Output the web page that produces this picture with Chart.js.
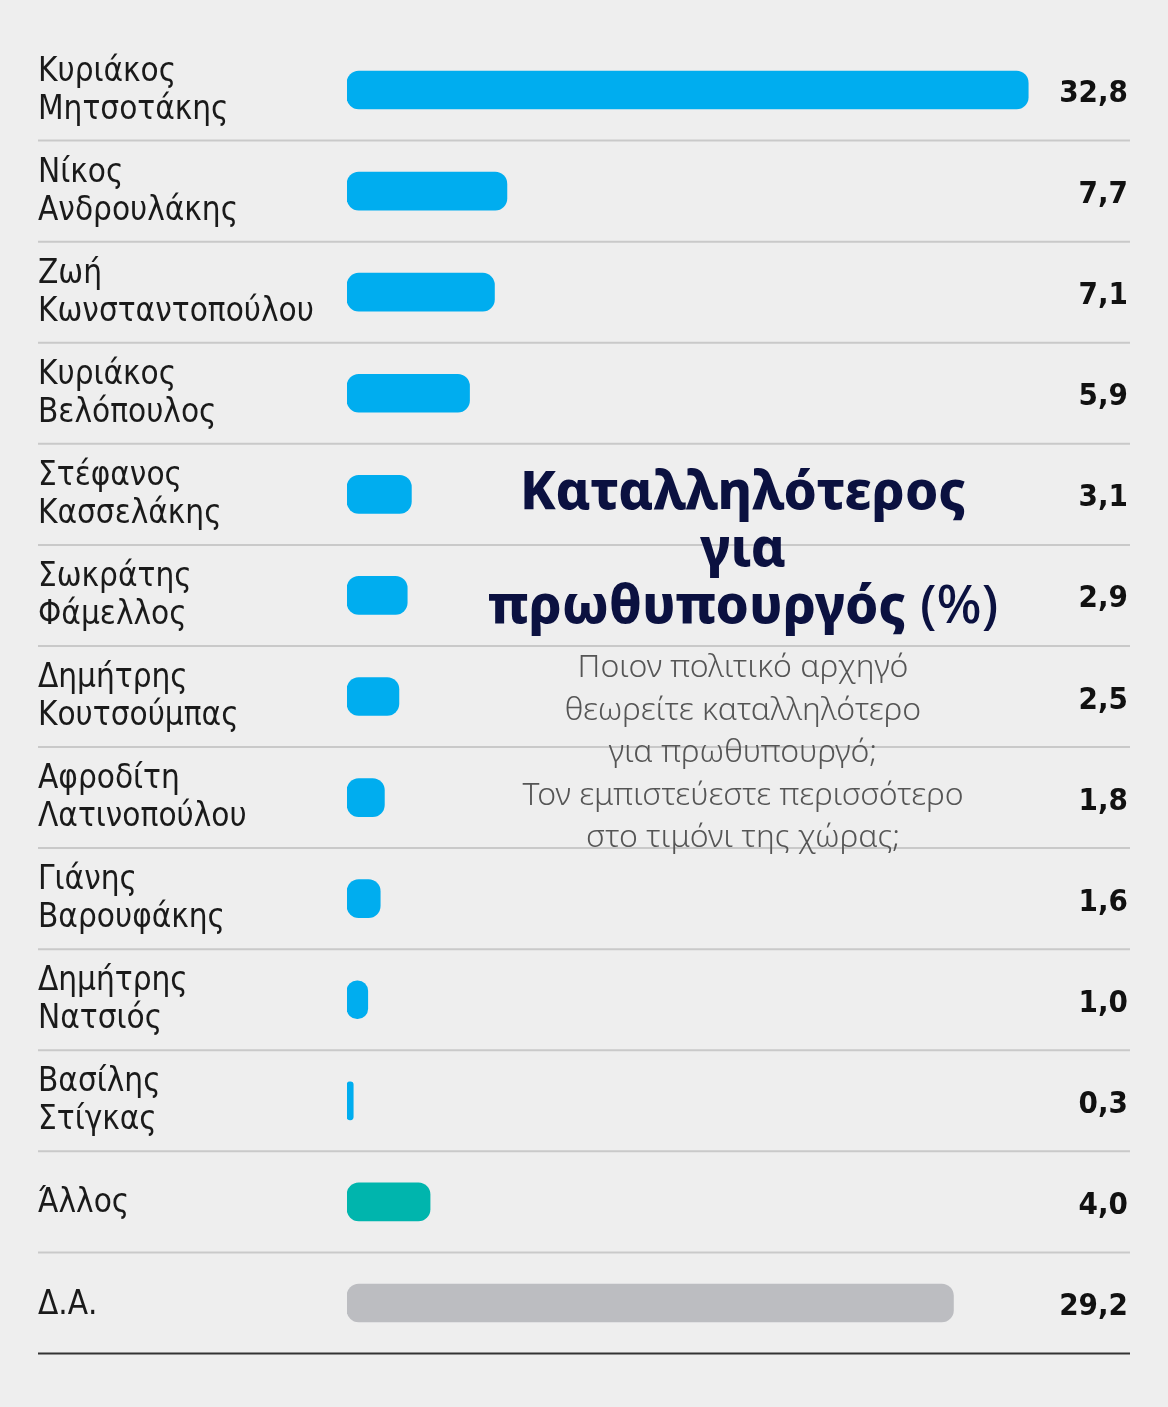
<!DOCTYPE html>
<html>
<head>
<meta charset="utf-8">
<script src="https://cdn.jsdelivr.net/npm/chart.js@4"></script>
<style>
  html, body { margin: 0; padding: 0; background: #eeeeee; }
  #wrap { width: 1168px; height: 1407px; position: relative; }
</style>
</head>
<body>
<div id="wrap"><canvas id="chart"></canvas></div>
<script>
const names = [
  ["Κυριάκος", "Μητσοτάκης"],
  ["Νίκος", "Ανδρουλάκης"],
  ["Ζωή", "Κωνσταντοπούλου"],
  ["Κυριάκος", "Βελόπουλος"],
  ["Στέφανος", "Κασσελάκης"],
  ["Σωκράτης", "Φάμελλος"],
  ["Δημήτρης", "Κουτσούμπας"],
  ["Αφροδίτη", "Λατινοπούλου"],
  ["Γιάνης", "Βαρουφάκης"],
  ["Δημήτρης", "Νατσιός"],
  ["Βασίλης", "Στίγκας"],
  ["Άλλος"],
  ["Δ.Α."]
];
const shares = [32.8, 7.7, 7.1, 5.9, 3.1, 2.9, 2.5, 1.8, 1.6, 1.0, 0.3, 4.0, 29.2];
const barColors = ["#00adef", "#00adef", "#00adef", "#00adef", "#00adef", "#00adef",
  "#00adef", "#00adef", "#00adef", "#00adef", "#00adef", "#00b5ad", "#bcbdc1"];

const titleLines = ["Καταλληλότερος", "για", "πρωθυπουργός"];
const subtitleLines = ["Ποιον πολιτικό αρχηγό", "θεωρείτε καταλληλότερο",
  "για πρωθυπουργό;", "Τον εμπιστεύεστε περισσότερο", "στο τιμόνι της χώρας;"];

const labelFont = '33px "DejaVu Sans Condensed", "DejaVu Sans", sans-serif';
const valueFont = 'bold 31px "DejaVu Sans Condensed", "DejaVu Sans", sans-serif';

const overlay = {
  id: "overlay",
  afterDatasetsDraw(chart) {
    const ctx = chart.ctx;
    const y = chart.scales.y;
    const step = y.getPixelForValue(1) - y.getPixelForValue(0);
    ctx.save();
    // separators
    names.forEach((n, i) => {
      const ly = y.getPixelForValue(i) + step / 2;
      ctx.strokeStyle = i === names.length - 1 ? "#333333" : "#c9c9c9";
      ctx.lineWidth = 2;
      ctx.beginPath();
      ctx.moveTo(38, ly);
      ctx.lineTo(1130, ly);
      ctx.stroke();
    });
    // labels and values
    ctx.textBaseline = "middle";
    names.forEach((n, i) => {
      const cy = y.getPixelForValue(i);
      ctx.font = labelFont;
      ctx.fillStyle = "#1a1a1a";
      ctx.textAlign = "left";
      if (n.length === 2) {
        ctx.fillText(n[0], 38, cy - 18);
        ctx.fillText(n[1], 38, cy + 20);
      } else {
        ctx.fillText(n[0], 38, cy + 2);
      }
      ctx.font = valueFont;
      ctx.textAlign = "right";
      ctx.fillStyle = "#111111";
      ctx.fillText(shares[i].toFixed(1).replace(".", ","), 1128, cy + 4);
    });
    // title
    const cx = 743;
    ctx.textAlign = "center";
    ctx.fillStyle = "#0b1140";
    ctx.font = '800 53px "Noto Sans", sans-serif';
    ctx.fillText(titleLines[0], cx, 494);
    ctx.fillText(titleLines[1], cx, 551);
    const t3 = titleLines[2];
    const w3 = ctx.measureText(t3).width;
    ctx.font = '500 53px "Noto Sans", sans-serif';
    const wp = ctx.measureText(" (%)").width;
    const startX = cx - (w3 + wp) / 2;
    ctx.textAlign = "left";
    ctx.font = '800 53px "Noto Sans", sans-serif';
    ctx.fillText(t3, startX, 608);
    ctx.font = '500 53px "Noto Sans", sans-serif';
    ctx.fillText(" (%)", startX + w3, 608);
    // subtitle
    ctx.textAlign = "center";
    ctx.fillStyle = "#555555";
    ctx.font = '300 32px "Noto Sans", sans-serif';
    subtitleLines.forEach((s, i) => ctx.fillText(s, cx, 668 + i * 42.5));
    ctx.restore();
  }
};

new Chart(document.getElementById("chart"), {
  type: "bar",
  data: {
    labels: names.map(n => n.join(" ")),
    datasets: [{
      data: shares,
      backgroundColor: barColors,
      barThickness: 38,
      borderRadius: 12,
      borderSkipped: false
    }]
  },
  options: {
    indexAxis: "y",
    responsive: true,
    maintainAspectRatio: false,
    animation: false,
    layout: { padding: { left: 347, right: 38, top: 39.5, bottom: 53.5 } },
    plugins: { legend: { display: false }, tooltip: { enabled: false } },
    scales: {
      x: { display: false, min: 0, max: 37.7 },
      y: { display: false, offset: true }
    }
  },
  plugins: [overlay]
});
</script>
</body>
</html>
